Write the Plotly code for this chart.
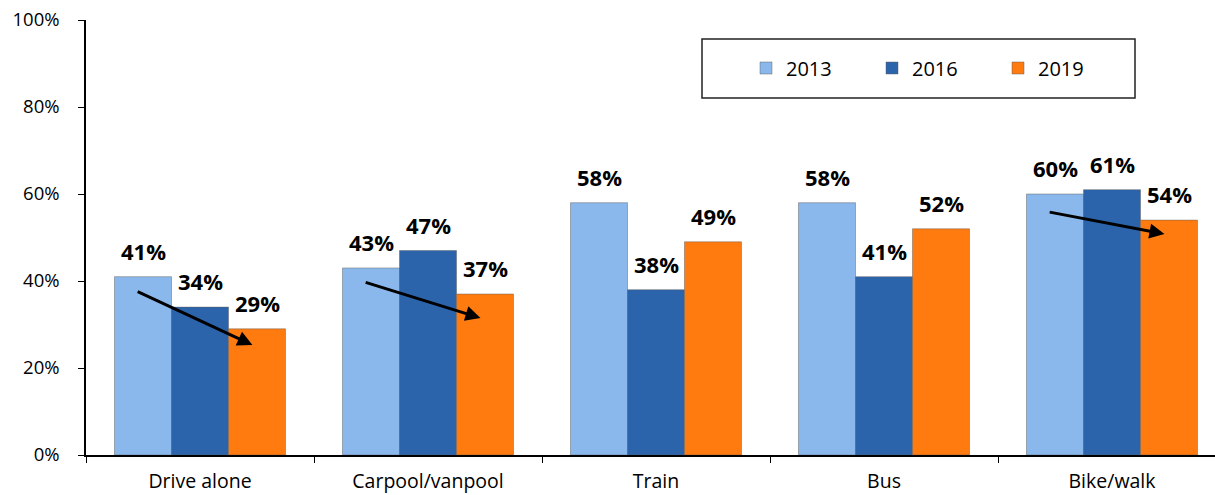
import plotly.graph_objects as go

categories = ["Drive alone", "Carpool/vanpool", "Train", "Bus", "Bike/walk"]
years = ["2013", "2016", "2019"]
values_2013 = [0.41, 0.43, 0.58, 0.58, 0.60]
values_2016 = [0.34, 0.47, 0.38, 0.41, 0.61]
values_2019 = [0.29, 0.37, 0.49, 0.52, 0.54]
y_tick_vals = [0, 0.2, 0.4, 0.6, 0.8, 1.0]

# trend arrows (category index, start value, end value)
arrow_cats = [0, 1, 4]
arrow_start_y = [0.377, 0.398, 0.559]
arrow_end_y = [0.253, 0.315, 0.508]

colors = ["#8BB8EC", "#2C64AC", "#FF7B10"]
series = [values_2013, values_2016, values_2019]

BARGAP = 0.25
W, H = 1215, 495
ML, MT = 86, 20
MB = H - 455
MR = 0
PW, PH = W - ML - MR, H - MT - MB
FONT = "Open Sans"


def px_x(X):
    return (X - ML) / PW


def px_y(Y):
    return (H - MB - Y) / PH


fig = go.Figure()
for name, vals, col in zip(years, series, colors):
    fig.add_trace(go.Bar(
        x=categories, y=vals, name=name,
        marker=dict(color=col, line=dict(color="rgba(90,90,90,0.45)", width=1)),
    ))

slot = (1 - BARGAP) / 3
for i, vals in enumerate(series):
    for ci, v in enumerate(vals):
        fig.add_annotation(
            x=ci + (i - 1) * slot, y=v, xref="x", yref="y",
            text=f"<b>{round(v*100)}%</b>", showarrow=False,
            yshift=26, font=dict(family=FONT, size=22, color="#000000"),
        )

for ci, ys, ye in zip(arrow_cats, arrow_start_y, arrow_end_y):
    fig.add_annotation(
        x=ci + 0.23, y=ye, ax=ci - 0.28, ay=ys,
        xref="x", yref="y", axref="x", ayref="y",
        showarrow=True, arrowhead=2, arrowsize=1.0, arrowwidth=3,
        arrowcolor="#000000", text="",
    )

# legend box
fig.add_shape(type="rect", xref="paper", yref="paper",
              x0=px_x(702), x1=px_x(1135), y0=px_y(98), y1=px_y(39),
              line=dict(color="#222222", width=1.5), fillcolor="rgba(0,0,0,0)")

fig.update_layout(
    width=W, height=H,
    margin=dict(l=ML, r=MR, t=MT, b=MB),
    paper_bgcolor="white", plot_bgcolor="white",
    barmode="group", bargap=BARGAP, bargroupgap=0,
    font=dict(family=FONT, size=19, color="#000000"),
    showlegend=True,
    legend=dict(
        orientation="h", x=px_x(746), y=px_y(68),
        xanchor="left", yanchor="middle",
        bgcolor="rgba(0,0,0,0)", borderwidth=0,
        font=dict(family=FONT, size=20, color="#000000"),
        entrywidth=81, entrywidthmode="pixels", itemwidth=30,
    ),
    xaxis=dict(
        range=[-0.5, -0.5 + PW / 228.0],
        showline=True, linecolor="#000000", linewidth=1.5,
        ticks="outside", ticklen=6, tickcolor="#000000", tickson="boundaries",
        showgrid=False, ticklabelstandoff=8, automargin=False,
        ticklabeloverflow="allow",
        tickfont=dict(family=FONT, size=19.5, color="#000000"),
    ),
    yaxis=dict(
        range=[0, 1], tickvals=y_tick_vals, tickformat=".0%",
        showline=True, linecolor="#000000", linewidth=1.5,
        ticks="outside", ticklen=6, tickcolor="#000000",
        showgrid=False, zeroline=False, ticklabelstandoff=15, automargin=False,
        ticklabeloverflow="allow",
        tickfont=dict(family=FONT, size=18.5, color="#000000"),
    ),
)

fig.write_html("out.html", config={"displayModeBar": False},
               post_script="document.body.style.margin='0';")
